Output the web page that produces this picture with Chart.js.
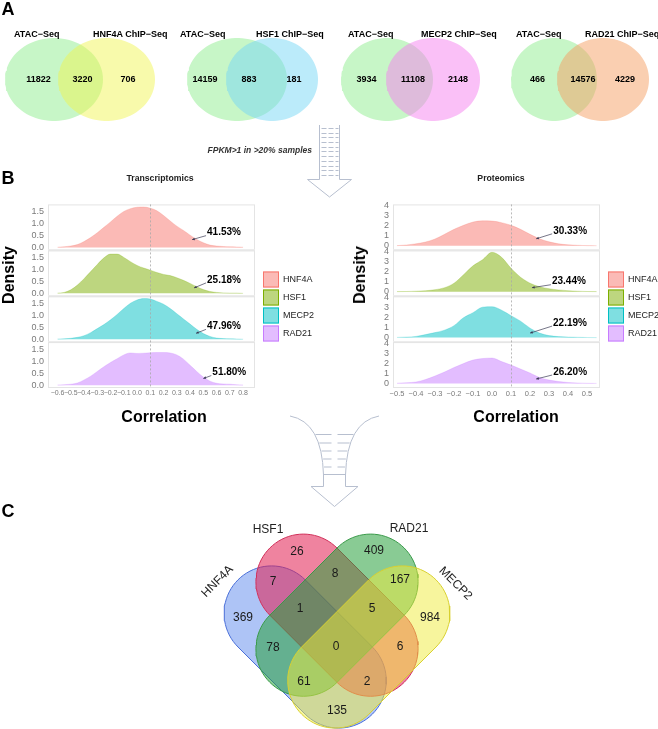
<!DOCTYPE html>
<html><head><meta charset="utf-8">
<script src="https://cdn.jsdelivr.net/npm/chart.js@4.4.1/dist/chart.umd.min.js"></script>
<style>
html,body{margin:0;padding:0;background:#fff;}
#wrap{position:relative;width:658px;height:729px;overflow:hidden;font-family:"Liberation Sans",Arial,sans-serif;}
#wrap canvas{position:absolute;}
.t{position:absolute;white-space:nowrap;line-height:1;color:#000;}
.c{transform:translate(-50%,-50%);}
.l{transform:translate(0,-50%);}
.b{font-weight:bold;}
</style></head>
<body><div id="wrap">
<canvas id="bg" width="658" height="729" style="left:0;top:0"></canvas>
<canvas id="rt" width="330" height="205" style="left:0;top:195px"></canvas>
<canvas id="rp" width="328" height="205" style="left:330px;top:195px"></canvas>

<div class="t b c" style="left:8px;top:9px;font-size:18px">A</div>
<div class="t b c" style="left:8px;top:178px;font-size:18px">B</div>
<div class="t b c" style="left:8px;top:511px;font-size:18px">C</div>

<div class="t b l" style="left:14px;top:33.5px;font-size:9px">ATAC−Seq</div>
<div class="t b l" style="left:93px;top:33.5px;font-size:9px">HNF4A ChIP−Seq</div>
<div class="t b l" style="left:180px;top:33.5px;font-size:9px">ATAC−Seq</div>
<div class="t b l" style="left:256px;top:33.5px;font-size:9px">HSF1 ChIP−Seq</div>
<div class="t b l" style="left:348px;top:33.5px;font-size:9px">ATAC−Seq</div>
<div class="t b l" style="left:421px;top:33.5px;font-size:9px">MECP2 ChIP−Seq</div>
<div class="t b l" style="left:516px;top:33.5px;font-size:9px">ATAC−Seq</div>
<div class="t b l" style="left:585px;top:33.5px;font-size:9px">RAD21 ChIP−Seq</div>

<div class="t b" style="right:346px;top:145.5px;font-size:8.5px;font-style:italic;color:#333">FPKM&gt;1 in &gt;20% samples</div>

<div class="t b c" style="left:160px;top:178px;font-size:8.7px;color:#222">Transcriptomics</div>
<div class="t b c" style="left:501px;top:178px;font-size:8.7px;color:#222">Proteomics</div>
<div class="t b c" style="left:9px;top:275px;font-size:16px;transform:translate(-50%,-50%) rotate(-90deg)">Density</div>
<div class="t b c" style="left:360px;top:275px;font-size:16px;transform:translate(-50%,-50%) rotate(-90deg)">Density</div>
<div class="t b c" style="left:164px;top:417px;font-size:16px">Correlation</div>
<div class="t b c" style="left:516px;top:417px;font-size:16px">Correlation</div>

<div class="t c" style="left:268px;top:529px;font-size:12px;color:#222">HSF1</div>
<div class="t c" style="left:409px;top:528px;font-size:12px;color:#222">RAD21</div>
<div class="t c" style="left:217px;top:581px;font-size:12px;color:#222;transform:translate(-50%,-50%) rotate(-45deg)">HNF4A</div>
<div class="t c" style="left:456px;top:583px;font-size:12px;color:#222;transform:translate(-50%,-50%) rotate(45deg)">MECP2</div>
</div>
<script>
// ---------------- DATA ----------------
// Panel A: ATAC-Seq vs ChIP-Seq peak overlaps
const chipNames = ['HNF4A', 'HSF1', 'MECP2', 'RAD21'];
const atacOnly = [11822, 14159, 3934, 466];
const overlapCounts = [3220, 883, 11108, 14576];
const chipOnly = [706, 181, 2148, 4229];

// Panel B: density of correlation
const tfNames = ['HNF4A', 'HSF1', 'MECP2', 'RAD21'];
const corrGridT = [-0.6,-0.55,-0.5,-0.45,-0.4,-0.35,-0.3,-0.25,-0.2,-0.15,-0.1,-0.05,0,0.05,0.1,0.15,0.2,0.25,0.3,0.35,0.4,0.45,0.5,0.55,0.6,0.65,0.7,0.75,0.8];
const densT_HNF4A = [0.01,0.03,0.06,0.12,0.25,0.42,0.62,0.85,1.08,1.32,1.52,1.64,1.70,1.71,1.66,1.55,1.35,1.12,0.90,0.72,0.52,0.34,0.20,0.10,0.06,0.04,0.03,0.02,0.01];
const densT_HSF1  = [0.01,0.04,0.15,0.35,0.62,0.92,1.22,1.50,1.66,1.66,1.52,1.34,1.18,1.07,0.98,0.88,0.80,0.75,0.66,0.55,0.42,0.28,0.16,0.08,0.04,0.02,0.01,0.01,0.0];
const densT_MECP2 = [0.01,0.02,0.04,0.08,0.15,0.28,0.45,0.62,0.82,1.05,1.30,1.52,1.66,1.72,1.70,1.60,1.48,1.30,1.08,0.86,0.64,0.42,0.24,0.12,0.05,0.03,0.02,0.01,0.0];
const densT_RAD21 = [0.01,0.02,0.04,0.09,0.22,0.38,0.58,0.78,0.96,1.12,1.28,1.36,1.34,1.35,1.37,1.38,1.38,1.36,1.28,1.10,0.84,0.58,0.34,0.17,0.08,0.05,0.04,0.02,0.01];
const corrGridP = [-0.5,-0.45,-0.4,-0.35,-0.3,-0.25,-0.2,-0.15,-0.1,-0.05,0,0.05,0.1,0.15,0.2,0.25,0.3,0.35,0.4,0.45,0.5,0.55];
const densP_HNF4A = [0.02,0.08,0.2,0.38,0.68,1.15,1.65,2.05,2.38,2.5,2.48,2.32,2.05,1.65,1.15,0.7,0.4,0.2,0.1,0.05,0.02,0.01];
const densP_HSF1  = [0.01,0.02,0.05,0.1,0.2,0.4,0.85,1.7,2.6,3.2,3.95,3.45,2.35,1.45,0.85,0.5,0.3,0.18,0.1,0.05,0.02,0.01];
const densP_MECP2 = [0.02,0.05,0.12,0.3,0.5,0.75,1.2,2.0,2.5,3.05,3.1,2.75,2.2,1.65,0.95,0.45,0.2,0.1,0.05,0.03,0.01,0.0];
const densP_RAD21 = [0.03,0.08,0.15,0.4,0.75,1.15,1.6,2.0,2.35,2.5,2.55,2.2,1.85,1.45,1.05,0.6,0.35,0.2,0.1,0.05,0.02,0.01];
const pctT = ['41.53%', '25.18%', '47.96%', '51.80%'];
const pctP = ['30.33%', '23.44%', '22.19%', '26.20%'];
const tipT = [[0.415,0.33],[0.43,0.23],[0.445,0.25],[0.5,0.28]];
const tipP = [[0.232,0.7],[0.21,0.4],[0.2,0.45],[0.232,0.45]];
const refCorr = 0.1;
const xTicksT = [-0.6,-0.5,-0.4,-0.3,-0.2,-0.1,0,0.1,0.2,0.3,0.4,0.5,0.6,0.7,0.8];
const xTicksP = [-0.5,-0.4,-0.3,-0.2,-0.1,0,0.1,0.2,0.3,0.4,0.5];
const yTicksT = [0, 0.5, 1.0, 1.5];
const yTicksP = [0, 1, 2, 3, 4];

// Panel C: 4-set Venn (A=HNF4A, B=HSF1, C=RAD21, D=MECP2)
const vennSetNames = ['HNF4A', 'HSF1', 'RAD21', 'MECP2'];
const regionNames = ['A','B','C','D','AB','AC','AD','BC','BD','CD','ABC','ABD','ACD','BCD','ABCD'];
const regionCounts = [369, 26, 409, 984, 7, 78, 135, 8, 6, 167, 1, 2, 61, 5, 0];

// ---------------- LAYOUT / STYLE ----------------
const FF = '"Liberation Sans", Arial, sans-serif';
const LA = {
  cy: 79.5, ry: 41.5,
  circles: [[[54,49],[106.5,48.5]], [[237,50],[272,46]], [[387,46],[433,47]], [[554,43],[603,46]]],
  numX: [[38.5,82.5,128],[205,249,294],[366.5,413,458],[537.5,583,625]], numY: 80,
  atacFill: 'rgba(144,238,144,0.5)',
  chipFill: ['rgba(240,245,80,0.48)', 'rgba(120,215,245,0.5)', 'rgba(245,130,240,0.5)', 'rgba(245,160,100,0.5)']
};
const LC = {
  cx: 337, cy: 647, r: 47.5,
  fills: ['rgba(75,125,235,0.45)', 'rgba(225,30,80,0.55)', 'rgba(40,160,60,0.55)', 'rgba(240,235,60,0.5)'],
  borders: ['#4a6fd8', '#d0305a', '#3a9a4a', '#d8d030'],
  pos: {A:[243,618],B:[297,552],C:[374,551],D:[430,618],AB:[273,582],AC:[273,648],AD:[337,711],BC:[335,574],BD:[400,647],CD:[400,580],ABC:[300,609],ABD:[367,682],ACD:[304,682],BCD:[372,609],ABCD:[336,647]}
};
const ridgeFill = ['rgba(248,118,109,0.5)', 'rgba(124,174,0,0.5)', 'rgba(0,191,196,0.5)', 'rgba(199,124,255,0.5)'];
const ridgeLine = ['#F8766D', '#7CAE00', '#00BFC4', '#C77CFF'];

// ---------------- GEOMETRY HELPERS ----------------
function ellipsePts(cx, cy, rx, ry) {
  const p = []; const n = 90;
  for (let i = 0; i <= n; i++) { const t = 2*Math.PI*i/n; p.push({x: cx + rx*Math.cos(t), y: cy + ry*Math.sin(t)}); }
  return p;
}
function uv(u, v) { return [LC.cx + (u - v)/Math.SQRT2, LC.cy + (u + v)/Math.SQRT2]; }
function capsulePts(p1, p2, r) {
  const th = Math.atan2(p2[1]-p1[1], p2[0]-p1[0]); const p = []; const n = 40;
  for (let i = 0; i <= n; i++) { const a = th - Math.PI/2 + Math.PI*i/n; p.push({x: p2[0] + r*Math.cos(a), y: p2[1] + r*Math.sin(a)}); }
  for (let i = 0; i <= n; i++) { const a = th + Math.PI/2 + Math.PI*i/n; p.push({x: p1[0] + r*Math.cos(a), y: p1[1] + r*Math.sin(a)}); }
  p.push(p[0]); return p;
}
const capsuleAxes = [
  [uv(-70, 22.5), uv(25, 22.5)],   // A HNF4A
  [uv(-70, -22.5), uv(25, -22.5)], // B HSF1
  [uv(-22.5, -70), uv(-22.5, 25)], // C RAD21
  [uv(22.5, -70), uv(22.5, 25)]    // D MECP2
];

// ---------------- BACKGROUND CHART (panels A & C) ----------------
// Chart.js paints higher "order" first, so order values give the stacking: first set at the bottom.
const bgDatasets = [];
chipNames.forEach((n, i) => {
  const c = LA.circles[i];
  bgDatasets.push({label: 'ATAC-Seq', order: 20, data: ellipsePts(c[0][0], LA.cy, c[0][1], LA.ry), showLine: true, fill: 'shape',
    backgroundColor: LA.atacFill, borderColor: 'rgba(0,0,0,0)', borderWidth: 0, pointRadius: 0, tension: 0});
  bgDatasets.push({label: n + ' ChIP-Seq', order: 19, data: ellipsePts(c[1][0], LA.cy, c[1][1], LA.ry), showLine: true, fill: 'shape',
    backgroundColor: LA.chipFill[i], borderColor: 'rgba(0,0,0,0)', borderWidth: 0, pointRadius: 0, tension: 0});
});
vennSetNames.forEach((n, i) => {
  bgDatasets.push({label: n, order: 10 - i, data: capsulePts(capsuleAxes[i][0], capsuleAxes[i][1], LC.r), showLine: true, fill: 'shape',
    backgroundColor: LC.fills[i], borderColor: LC.borders[i], borderWidth: 1, pointRadius: 0, tension: 0});
});

function drawArrow1(ctx) {
  ctx.save(); ctx.strokeStyle = '#b7bfcf'; ctx.lineWidth = 1;
  const xl = 319.5, xr = 339.5, yt = 125, yb = 179.5;
  ctx.beginPath();
  ctx.moveTo(xl, yt); ctx.lineTo(xl, yb); ctx.lineTo(307.5, yb); ctx.lineTo(329.5, 197);
  ctx.lineTo(351.5, yb); ctx.lineTo(xr, yb); ctx.lineTo(xr, yt); ctx.stroke();
  ctx.setLineDash([5, 2]);
  for (let y = yt + 3; y < yb - 2; y += 4.7) {
    ctx.beginPath(); ctx.moveTo(xl + 2, Math.round(y) + 0.5); ctx.lineTo(xr - 1, Math.round(y) + 0.5); ctx.stroke();
  }
  ctx.restore();
}
function bez(p0, c, p1, t) { const m = 1 - t; return [m*m*p0[0] + 2*m*t*c[0] + t*t*p1[0], m*m*p0[1] + 2*m*t*c[1] + t*t*p1[1]]; }
function bezXAtY(p0, c, p1, y) { let best = p0, bd = 1e9; for (let t = 0; t <= 1; t += 0.002) { const q = bez(p0, c, p1, t); const d = Math.abs(q[1] - y); if (d < bd) { bd = d; best = q; } } return best[0]; }
function drawArrow2(ctx) {
  ctx.save(); ctx.strokeStyle = '#b7bfcf'; ctx.lineWidth = 1;
  const L0 = [290, 416], Lc = [322, 422], L1 = [323.5, 475];
  const R0 = [379, 416], Rc = [347, 422], R1 = [345.5, 475];
  ctx.beginPath();
  ctx.moveTo(L0[0], L0[1]); ctx.quadraticCurveTo(Lc[0], Lc[1], L1[0], L1[1]);
  ctx.lineTo(323.5, 486.5); ctx.lineTo(311, 486.5); ctx.lineTo(334.5, 506.5); ctx.lineTo(358, 486.5); ctx.lineTo(345.5, 486.5);
  ctx.lineTo(R1[0], R1[1]); ctx.quadraticCurveTo(Rc[0], Rc[1], R0[0], R0[1]);
  ctx.stroke();
  [434, 442.5, 450.5, 458.5, 466.5].forEach(y => {
    const xa = bezXAtY(L0, Lc, L1, y) + 1, xb = bezXAtY(R0, Rc, R1, y) - 1;
    ctx.beginPath(); ctx.moveTo(xa, y + 0.5); ctx.lineTo(331.5, y + 0.5); ctx.moveTo(337.5, y + 0.5); ctx.lineTo(xb, y + 0.5); ctx.stroke();
  });
  ctx.beginPath(); ctx.moveTo(323.5, 474.5); ctx.lineTo(345.5, 474.5); ctx.stroke();
  ctx.restore();
}
const bgDeco = {
  id: 'bgDeco',
  beforeDatasetsDraw(chart) { drawArrow1(chart.ctx); drawArrow2(chart.ctx); },
  afterDatasetsDraw(chart) {
    const ctx = chart.ctx, xs = chart.scales.x, ys = chart.scales.y;
    ctx.save(); ctx.textAlign = 'center'; ctx.textBaseline = 'middle';
    ctx.font = 'bold 9px ' + FF; ctx.fillStyle = '#000';
    chipNames.forEach((n, i) => {
      [atacOnly[i], overlapCounts[i], chipOnly[i]].forEach((val, k) => {
        ctx.fillText(String(val), xs.getPixelForValue(LA.numX[i][k]), ys.getPixelForValue(LA.numY));
      });
    });
    ctx.font = '12px ' + FF; ctx.fillStyle = '#1a1a1a';
    regionNames.forEach((r, k) => {
      const p = LC.pos[r];
      ctx.fillText(String(regionCounts[k]), xs.getPixelForValue(p[0]), ys.getPixelForValue(p[1]));
    });
    ctx.restore();
  }
};
new Chart(document.getElementById('bg'), {
  type: 'scatter',
  data: {datasets: bgDatasets},
  options: {
    responsive: false, animation: false, devicePixelRatio: 1, events: [],
    layout: {padding: 0},
    plugins: {legend: {display: false}, tooltip: {enabled: false}},
    scales: {
      x: {type: 'linear', min: 0, max: 658, display: false},
      y: {type: 'linear', min: 0, max: 729, reverse: true, display: false}
    }
  },
  plugins: [bgDeco]
});

// ---------------- RIDGE CHARTS (panel B) ----------------
function fmtX(v) { const s = Math.abs(v) < 1e-9 ? '0.0' : v.toFixed(1); return s.replace('-', '\u2212'); }
const ridgeDeco = {
  id: 'ridgeDeco',
  beforeDatasetsDraw(chart) {
    const ctx = chart.ctx, ca = chart.chartArea;
    ctx.save(); ctx.fillStyle = '#fff'; ctx.fillRect(ca.left, ca.top, ca.width, ca.height); ctx.restore();
  },
  afterDatasetsDraw(chart, args, o) {
    const ctx = chart.ctx, ca = chart.chartArea, xs = chart.scales.x;
    ctx.save();
    chart.data.datasets.forEach((d, i) => {
      const sc = chart.scales[d.yAxisID];
      ctx.strokeStyle = '#e4e4e4'; ctx.lineWidth = 1;
      ctx.strokeRect(ca.left + 0.5, sc.top + 0.5, ca.width - 1, sc.height - 1);
      if (i < 3) { ctx.strokeStyle = '#ececec'; ctx.lineWidth = 2; ctx.beginPath(); ctx.moveTo(ca.left, sc.bottom); ctx.lineTo(ca.right, sc.bottom); ctx.stroke(); }
    });
    const xr = Math.round(xs.getPixelForValue(o.ref)) + 0.5;
    ctx.strokeStyle = '#a8a8a8'; ctx.lineWidth = 0.8; ctx.setLineDash([2, 2]);
    ctx.beginPath(); ctx.moveTo(xr, ca.top); ctx.lineTo(xr, ca.bottom); ctx.stroke(); ctx.setLineDash([]);
    chart.data.datasets.forEach((d, i) => {
      const sc = chart.scales[d.yAxisID];
      const tx = xs.getPixelForValue(o.tips[i][0]), ty = sc.getPixelForValue(o.tips[i][1]);
      const lx = tx + o.offs[i][0], ly = ty + o.offs[i][1];
      const ax = lx - 1, ay = ly + 3;
      ctx.strokeStyle = '#3b3b55'; ctx.fillStyle = '#3b3b55'; ctx.lineWidth = 0.7;
      ctx.beginPath(); ctx.moveTo(ax, ay); ctx.lineTo(tx, ty); ctx.stroke();
      const th = Math.atan2(ty - ay, tx - ax), hl = 3;
      ctx.beginPath(); ctx.moveTo(tx, ty);
      ctx.lineTo(tx - hl*Math.cos(th - 0.45), ty - hl*Math.sin(th - 0.45));
      ctx.lineTo(tx - hl*Math.cos(th + 0.45), ty - hl*Math.sin(th + 0.45)); ctx.closePath(); ctx.fill();
      ctx.fillStyle = '#000'; ctx.font = 'bold 10px ' + FF; ctx.textAlign = 'left'; ctx.textBaseline = 'middle';
      ctx.fillText(o.labels[i], lx, ly);
    });
    chart.data.datasets.forEach((d, i) => {
      const bx = o.legX, by = o.legY + i*18;
      ctx.fillStyle = '#fff'; ctx.fillRect(bx, by, 16, 16);
      ctx.fillStyle = d.backgroundColor; ctx.fillRect(bx, by, 16, 16);
      ctx.strokeStyle = o.legBorder[i]; ctx.lineWidth = 1; ctx.strokeRect(bx + 0.5, by + 0.5, 15, 15);
      ctx.fillStyle = '#222'; ctx.font = '9px ' + FF; ctx.textAlign = 'left'; ctx.textBaseline = 'middle';
      ctx.fillText(d.label, bx + 20, by + 8.5);
    });
    ctx.restore();
  }
};
function makeRidge(id, grid, dens, o) {
  const scales = {
    x: {type: 'linear', position: 'bottom', min: o.xmin, max: o.xmax,
      afterBuildTicks: s => { s.ticks = o.xticks.map(v => ({value: v})); },
      afterFit: s => { s.height = 12; },
      ticks: {autoSkip: false, maxRotation: 0, padding: 1, color: '#7a7a7a', font: {size: o.xfs, family: FF}, callback: v => fmtX(v)},
      grid: {display: false, drawTicks: false}, border: {display: false}}
  };
  [3, 2, 1, 0].forEach(i => {
    scales['y' + i] = {type: 'linear', position: 'left', stack: 'rows', stackWeight: 1, min: o.ymin, max: o.ymax,
      afterBuildTicks: s => { s.ticks = o.yticks.map(v => ({value: v})); },
      afterFit: s => { s.width = o.yw; },
      ticks: {autoSkip: false, padding: 4, color: '#7a7a7a', font: {size: 9, family: FF}, callback: v => o.yfmt(v)},
      grid: {display: false, drawTicks: false}, border: {display: false}};
  });
  const datasets = tfNames.map((n, i) => ({
    label: n, yAxisID: 'y' + i, data: grid.map((x, j) => ({x: x, y: dens[i][j]})),
    showLine: true, fill: 'origin', backgroundColor: ridgeFill[i], borderColor: ridgeFill[i], borderWidth: 0.5,
    pointRadius: 0, cubicInterpolationMode: 'monotone'
  }));
  return new Chart(document.getElementById(id), {
    type: 'scatter', data: {datasets},
    options: {
      responsive: false, animation: false, devicePixelRatio: 1, events: [],
      layout: {padding: {left: 0, right: o.padR, top: 7, bottom: 0}},
      plugins: {legend: {display: false}, tooltip: {enabled: false},
        ridgeDeco: {ref: refCorr, tips: o.tips, offs: o.offs, labels: o.labels, legX: o.legX, legY: 76.5, legBorder: ridgeLine}},
      scales
    },
    plugins: [ridgeDeco]
  });
}
makeRidge('rt', corrGridT, [densT_HNF4A, densT_HSF1, densT_MECP2, densT_RAD21], {
  xmin: -0.672, xmax: 0.89, xticks: xTicksT, xfs: 7, ymin: -0.12, ymax: 1.82, yticks: yTicksT, yfmt: v => v.toFixed(1),
  yw: 48, padR: 75, tips: tipT, offs: [[15,-7],[13,-8],[11,-7],[9,-6]], labels: pctT, legX: 263
});
makeRidge('rp', corrGridP, [densP_HNF4A, densP_HSF1, densP_MECP2, densP_RAD21], {
  xmin: -0.521, xmax: 0.568, xticks: xTicksP, xfs: 7.5, ymin: -0.45, ymax: 4.15, yticks: yTicksP, yfmt: v => String(v),
  yw: 63, padR: 58, tips: tipP, offs: [[17,-8],[20,-6],[23,-10],[17,-7]], labels: pctP, legX: 278
});
</script>
</body></html>
